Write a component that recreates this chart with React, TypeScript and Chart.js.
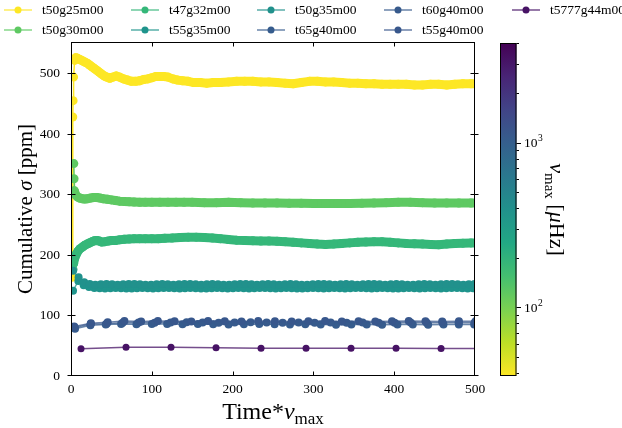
import { useEffect, useRef } from "react";
import { Chart, registerables } from "chart.js";

Chart.register(...registerables);

const SERIF = "'Liberation Serif', 'Times New Roman', serif";

// ---------------- data ----------------
const seriesNames = [
  "t50g25m00", "t50g30m00", "t47g32m00", "t55g35m00", "t50g35m00",
  "t65g40m00", "t60g40m00", "t55g40m00", "t5777g44m00",
];
const seriesColors = [
  "#fde725", "#5ec962", "#35b779", "#1f948c", "#21918c",
  "#365c8d", "#375a8c", "#38578c", "#471365",
];

// dense series: [time*numax, sigma]
const t50g25m00: [number, number][] = [
  [1.5,163],[2.2,428],[2.6,455],[3.2,494],[4.5,522],[6,526],[8,525],[11,523],[14,521],[17,519],[20,517],[23,514],[26,511],[29,508],[32,505],[35,502],[38,499],[41,496],[44,494],[48,492],[52,494],[56,496],[60,494],[65,491],[70,489],[75,487],[80,487],[85,488],[90,490],[95,491],[100,493],[105,495],[110,495],[115,495],[120,494],[126,491],[132,489],[138,488],[145,487],[152,485],[160,485],[168,484],[176,485],[185,485],[195,486],[205,487],[215,487],[225,487],[235,486],[245,486],[255,485],[265,484],[275,483],[285,485],[295,487],[305,487],[315,486],[325,486],[335,485],[345,484],[355,484],[365,483],[375,483],[385,482],[395,482],[405,482],[415,482],[425,481],[435,481],[445,482],[455,482],[465,481],[475,482],[485,483],[495,483],[505,483],
];
const t50g30m00: [number, number][] = [
  [3.5,351],[3.8,326],[4.2,306],[6,299],[8,296],[11,294],[14,293],[17,292.5],[20,293],[24,294],[28,295],[32,295],[36,294],[40,293],[45,292],[50,291],[55,290],[60,289],[66,288.5],[72,288],[78,287.5],[85,287],[92,287],[100,287],[110,287],[120,287],[130,287],[140,287],[150,287],[165,286.5],[180,286.5],[195,287],[210,286.5],[225,286],[240,286],[255,286],[270,285.5],[285,285.5],[300,285],[315,285],[330,285],[345,285],[360,285.5],[375,286],[390,286.5],[405,287],[420,287],[435,286.5],[450,286],[465,286],[480,286],[495,286],[505,286],
];
const t47g32m00: [number, number][] = [
  [2.5,176],[3.2,186],[4.5,194],[6.5,201],[8.5,206],[11,210],[14,213],[17,216],[20,218],[23,220],[26,222],[29,223.5],[32,224],[35,223],[38,221.5],[42,222],[46,223],[50,224],[55,224],[60,225],[66,226],[72,226.5],[78,227],[85,227],[92,227],[100,227],[108,227],[116,227.5],[125,228],[135,229],[145,229.5],[155,229.5],[165,229],[175,228],[185,227],[195,225.5],[205,224.5],[215,224],[225,223.5],[235,223],[245,223],[255,222.5],[265,222],[275,221],[285,220],[295,219],[305,218],[315,217.5],[325,218],[335,219],[345,220],[355,221],[365,221.5],[375,222],[385,222],[395,221],[405,220],[415,219],[425,218.5],[435,218],[445,217.5],[455,217],[465,218],[475,219],[485,219.5],[495,220],[505,220],
];

// evenly sampled series: first sample time, sampling step, sigma values
const t55g35m00_start = 2.5;
const t55g35m00_step = 6.6;
const t55g35m00: number[] = [
  141, 157, 150, 147, 145.5, 145, 144.5, 145, 145.5, 145, 144.5, 144.5, 145, 145.5, 145, 144.5, 145, 145.5, 145.5, 145,
  144.5, 145, 145.5, 145, 144.5, 144.5, 145, 145.5, 145, 144.5, 145, 145.5, 145, 144.5, 145, 145.5, 145.5, 145, 144.5, 145,
  145.5, 145, 144.5, 144.5, 145, 145.5, 145, 144.5, 145, 145.5, 145, 144.5, 145, 145.5, 145.5, 145, 144.5, 145, 145.5, 145,
  144.5, 144.5, 145, 145.5, 145, 144.5, 145, 145.5, 145, 144.5, 145, 145.5, 145.5, 145, 144.5, 145, 145.5,
];
const t50g35m00_start = 2.5;
const t50g35m00_step = 6.9;
const t50g35m00: number[] = [
  174, 163, 155, 152, 151, 151.5, 152, 151.5, 151, 151.5, 152, 152, 151.5, 151, 151, 151.5, 152, 151.5, 151, 151.5,
  152, 152, 151.5, 151, 151.5, 152, 151.5, 151, 151, 151.5, 152, 152, 151.5, 151, 151.5, 152, 151.5, 151, 151.5, 152,
  151.5, 151, 151, 151.5, 152, 152, 151.5, 151, 151.5, 152, 151.5, 151, 151.5, 152, 152, 151.5, 151, 151.5, 152, 151.5,
  151, 151, 151.5, 152, 151.5, 151, 151.5, 152, 152, 151.5, 151, 151.5, 152, 151.5,
];
const t65g40m00_start = 5;
const t65g40m00_step = 19.0;
const t65g40m00: number[] = [78, 84, 85, 86, 85.5, 86, 86, 85.5, 86, 85.5, 85, 85.5, 86, 85.5, 85, 85.5, 85, 84.5, 85, 85, 84.5, 85, 85, 84.5, 85, 85, 85, 85];
const t60g40m00_start = 4.5;
const t60g40m00_step = 19.8;
const t60g40m00: number[] = [80, 86, 86.5, 88, 88.5, 88, 88.5, 89, 88.5, 88, 88.5, 89, 88.5, 88, 88.5, 88, 88.5, 88, 88.5, 88, 88, 88.5, 88, 88, 88, 88, 88];
const t55g40m00_start = 4;
const t55g40m00_step = 20.7;
const t55g40m00: number[] = [82, 87, 89, 91, 90, 91, 90.5, 90, 91, 90.5, 90, 91, 90.5, 90, 90.5, 91, 90, 90.5, 90, 90.5, 91, 90.5, 90, 90.5, 90.5, 90.5];
const t5777g44m00_start = 12.4;
const t5777g44m00_step = 55.7;
const t5777g44m00: number[] = [45, 47.5, 47.5, 46.5, 46, 46, 46, 46, 45.5, 45.5];

// axes
const xTicks = [0, 100, 200, 300, 400, 500];
const yTicks = [0, 100, 200, 300, 400, 500];
const xMin = 0, xMax = 500, yMin = 0, yMax = 552;

// colorbar (nu_max, log scale)
const nuMaxMin = 38.3;
const nuMaxMax = 4020;
const cbarMajor = [100, 1000];
const cbarMajorExp = ["2", "3"];
const cbarMinor = [40, 50, 60, 70, 80, 90, 200, 300, 400, 500, 600, 700, 800, 900, 2000, 3000, 4000];
const viridis = ["#440154", "#482475", "#414487", "#355f8d", "#2a788e", "#21918c", "#22a884", "#44bf70", "#7ad151", "#bddf26", "#fde725"];

// ---------------- helpers ----------------
const pairs = (a: [number, number][]) => a.map(([x, y]) => ({ x, y }));
const even = (start: number, step: number, v: number[]) => v.map((y, i) => ({ x: start + i * step, y }));

function rgba(hex: string, a: number) {
  const n = parseInt(hex.slice(1), 16);
  return `rgba(${(n >> 16) & 255},${(n >> 8) & 255},${n & 255},${a})`;
}

type Part = { t: string; font: string; dy?: number };
function drawRich(ctx: CanvasRenderingContext2D, parts: Part[], cx: number, y: number) {
  let total = 0;
  const widths = parts.map((p) => {
    ctx.font = p.font;
    const w = ctx.measureText(p.t).width;
    total += w;
    return w;
  });
  let x = cx - total / 2;
  ctx.textAlign = "left";
  ctx.textBaseline = "alphabetic";
  parts.forEach((p, i) => {
    ctx.font = p.font;
    ctx.fillText(p.t, x, y + (p.dy || 0));
    x += widths[i];
  });
}

export default function App() {
  const ref = useRef<HTMLCanvasElement | null>(null);

  useEffect(() => {
    const canvas = ref.current;
    if (!canvas) return;

    const seriesData = [
      pairs(t50g25m00),
      pairs(t50g30m00),
      pairs(t47g32m00),
      even(t55g35m00_start, t55g35m00_step, t55g35m00),
      even(t50g35m00_start, t50g35m00_step, t50g35m00),
      even(t65g40m00_start, t65g40m00_step, t65g40m00),
      even(t60g40m00_start, t60g40m00_step, t60g40m00),
      even(t55g40m00_start, t55g40m00_step, t55g40m00),
      even(t5777g44m00_start, t5777g44m00_step, t5777g44m00),
    ];
    const bandStart: (number | null)[] = [4.5, 4.2, 3.2, null, null, null, null, null, null];
    const radius = [4.5, 4.5, 4.5, 4, 4, 4, 4, 4, 3.5];
    const N = seriesNames.length;

    const datasets = seriesData.map((pts, i) => {
      const band = bandStart[i];
      const ds: any = {
        label: seriesNames[i],
        data: pts,
        borderColor: band != null ? seriesColors[i] : rgba(seriesColors[i], 0.75),
        backgroundColor: seriesColors[i],
        pointBackgroundColor: seriesColors[i],
        pointBorderWidth: 0,
        pointRadius: radius[i],
        borderWidth: 1.5,
        borderCapStyle: "round",
        borderJoinStyle: "round",
        tension: 0,
        order: N - i,
        clip: 0,
      };
      if (band != null) {
        ds.segment = { borderWidth: (c: any) => (c.p0.parsed.x >= band ? 9 : 1.5) };
      }
      return ds;
    });

    const framePlugin = {
      id: "frame",
      afterDatasetsDraw(chart: any) {
        const { ctx, chartArea: a, scales } = chart;
        ctx.save();
        ctx.strokeStyle = "#000";
        ctx.lineWidth = 1;
        const L = Math.round(a.left) + 0.5, R = Math.round(a.right) - 0.5;
        const T = Math.round(a.top) + 0.5, B = Math.round(a.bottom) - 0.5;
        ctx.strokeRect(L, T, R - L, B - T);
        ctx.beginPath();
        xTicks.forEach((v) => {
          const px = Math.min(R, Math.max(L, Math.round(scales.x.getPixelForValue(v)) + 0.5));
          ctx.moveTo(px, B); ctx.lineTo(px, B - 4);
          ctx.moveTo(px, T); ctx.lineTo(px, T + 4);
        });
        yTicks.forEach((v) => {
          const py = Math.min(B, Math.max(T, Math.round(scales.y.getPixelForValue(v)) + 0.5));
          ctx.moveTo(L - 4, py); ctx.lineTo(L + 4, py);
          ctx.moveTo(R - 4, py); ctx.lineTo(R + 4, py);
        });
        ctx.stroke();
        ctx.restore();
      },
    };

    const decorPlugin = {
      id: "decor",
      afterDraw(chart: any) {
        const { ctx, chartArea: a } = chart;
        ctx.save();
        ctx.fillStyle = "#000";

        // legend (matplotlib ncol=5, column-major)
        const colX = [4, 131, 257, 384, 512];
        const rowY = [10, 30];
        seriesNames.forEach((name, k) => {
          const col = Math.floor(k / 2), row = k % 2;
          const x0 = colX[col], y0 = rowY[row];
          ctx.strokeStyle = rgba(seriesColors[k], 0.75);
          ctx.lineWidth = 1.5;
          ctx.beginPath();
          ctx.moveTo(x0, y0); ctx.lineTo(x0 + 28, y0);
          ctx.stroke();
          ctx.fillStyle = seriesColors[k];
          ctx.beginPath();
          ctx.arc(x0 + 14, y0, 3.5, 0, Math.PI * 2);
          ctx.fill();
          ctx.fillStyle = "#000";
          ctx.font = `13.5px ${SERIF}`;
          ctx.textAlign = "left";
          ctx.textBaseline = "middle";
          ctx.fillText(name, x0 + 38, y0 + 0.5);
        });

        // x label
        ctx.fillStyle = "#000";
        drawRich(ctx, [
          { t: "Time*", font: `24px ${SERIF}` },
          { t: "ν", font: `italic 24px ${SERIF}` },
          { t: "max", font: `17px ${SERIF}`, dy: 5 },
        ], (a.left + a.right) / 2, 419);

        // y label
        ctx.save();
        ctx.translate(32, (a.top + a.bottom) / 2);
        ctx.rotate(-Math.PI / 2);
        drawRich(ctx, [
          { t: "Cumulative ", font: `21px ${SERIF}` },
          { t: "σ", font: `italic 21px ${SERIF}` },
          { t: " [ppm]", font: `21px ${SERIF}` },
        ], 0, 0);
        ctx.restore();

        // colorbar
        const cbL = 500, cbR = 516.5, cbT = 43, cbB = 376;
        const lo = Math.log10(nuMaxMin), hi = Math.log10(nuMaxMax);
        const yOf = (v: number) => cbB - ((Math.log10(v) - lo) / (hi - lo)) * (cbB - cbT);
        const g = ctx.createLinearGradient(0, cbT, 0, cbB);
        viridis.forEach((c, i) => g.addColorStop(i / (viridis.length - 1), c));
        ctx.fillStyle = g;
        ctx.fillRect(cbL, cbT, cbR - cbL, cbB - cbT);
        ctx.strokeStyle = "#000";
        ctx.lineWidth = 1;
        ctx.strokeRect(cbL + 0.5, cbT + 0.5, cbR - cbL - 1, cbB - cbT - 1);
        ctx.beginPath();
        cbarMinor.forEach((v) => {
          const y = Math.round(yOf(v)) + 0.5;
          ctx.moveTo(cbR, y); ctx.lineTo(cbR + 2.5, y);
        });
        cbarMajor.forEach((v) => {
          const y = Math.round(yOf(v)) + 0.5;
          ctx.moveTo(cbR, y); ctx.lineTo(cbR + 4.5, y);
        });
        ctx.stroke();
        ctx.fillStyle = "#000";
        cbarMajor.forEach((v, i) => {
          const y = yOf(v);
          ctx.textAlign = "left";
          ctx.textBaseline = "middle";
          ctx.font = `13.5px ${SERIF}`;
          ctx.fillText("10", 524, y + 1);
          const w = ctx.measureText("10").width;
          ctx.font = `9.5px ${SERIF}`;
          ctx.fillText(cbarMajorExp[i], 524 + w + 0.5, y - 4);
        });

        // colorbar label
        ctx.save();
        ctx.translate(549.5, (cbT + cbB) / 2);
        ctx.rotate(Math.PI / 2);
        drawRich(ctx, [
          { t: "ν", font: `italic 22px ${SERIF}` },
          { t: "max", font: `15px ${SERIF}`, dy: 5 },
          { t: " [", font: `22px ${SERIF}` },
          { t: "μ", font: `italic 22px ${SERIF}` },
          { t: "Hz]", font: `22px ${SERIF}` },
        ], 0, 0);
        ctx.restore();

        ctx.restore();
      },
    };

    const chart = new Chart(canvas, {
      type: "line",
      data: { datasets },
      options: {
        animation: false,
        responsive: false,
        devicePixelRatio: 1,
        events: [],
        layout: { padding: { left: 0, right: 147, top: 42, bottom: 0 } },
        plugins: { legend: { display: false }, tooltip: { enabled: false } },
        scales: {
          x: {
            type: "linear",
            min: xMin,
            max: xMax,
            grid: { display: false, drawTicks: false },
            border: { display: false },
            ticks: { color: "#000", font: { family: SERIF, size: 13.5 }, padding: 5, maxRotation: 0 },
            afterBuildTicks: (s: any) => { s.ticks = xTicks.map((value) => ({ value })); },
            afterFit: (s: any) => { s.height = 52; },
          },
          y: {
            type: "linear",
            min: yMin,
            max: yMax,
            grid: { display: false, drawTicks: false },
            border: { display: false },
            ticks: { color: "#000", font: { family: SERIF, size: 13.5 }, padding: 11 },
            afterBuildTicks: (s: any) => { s.ticks = yTicks.map((value) => ({ value })); },
            afterFit: (s: any) => { s.width = 71; },
          },
        },
      } as any,
      plugins: [framePlugin, decorPlugin],
    });

    return () => chart.destroy();
  }, []);

  return (
    <div style={{ position: "absolute", left: 0, top: 0, width: 622, height: 428, background: "#fff" }}>
      <canvas ref={ref} width={622} height={428} style={{ display: "block" }} />
    </div>
  );
}
